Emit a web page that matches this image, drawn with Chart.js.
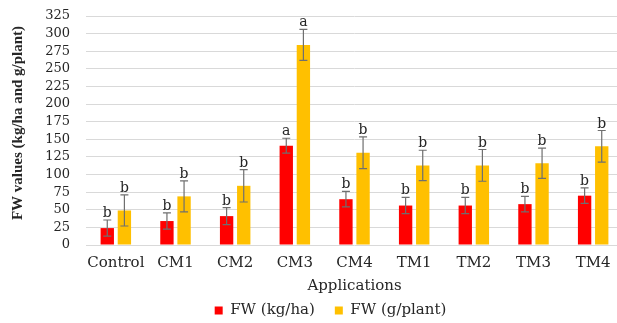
<!DOCTYPE html>
<html>
<head>
<meta charset="utf-8">
<script src="https://cdn.jsdelivr.net/npm/chart.js@4/dist/chart.umd.min.js"></script>
<style>
  html, body { margin: 0; padding: 0; background: #fff; overflow: hidden; }
  #wrap { width: 617px; height: 323px; overflow: hidden; position: relative; }
  #box { width: 660px; height: 328px; position: absolute; left: 0; top: 0; }
</style>
</head>
<body>
<div id="wrap"><div id="box"><canvas id="c"></canvas></div></div>
<script>
// Fresh weight per treatment
const categories = ['Control', 'CM1', 'CM2', 'CM3', 'CM4', 'TM1', 'TM2', 'TM3', 'TM4'];
const fwKgHa      = [24, 34, 41, 141, 65, 56, 56, 58, 70];
const fwKgHaErr   = [11.5, 11.5, 12, 10.5, 11, 11.5, 11.5, 11, 11];
const fwKgHaSig   = ['b', 'b', 'b', 'a', 'b', 'b', 'b', 'b', 'b'];
const fwGPlant    = [49, 69, 84, 284, 131, 113, 113, 116, 140];
const fwGPlantErr = [22, 22, 23, 22, 22.5, 21.5, 22.5, 21.5, 22.5];
const fwGPlantSig = ['b', 'b', 'b', 'a', 'b', 'b', 'b', 'b', 'b'];
const yTicks      = [0, 25, 50, 75, 100, 125, 150, 175, 200, 225, 250, 275, 300, 325];

const SERIF = "'DejaVu Serif', serif";
const TEXT = '#262626';

// error bars with significance letters on top
const errorBars = {
  id: 'errorBars',
  afterDatasetsDraw(chart) {
    const ctx = chart.ctx;
    const y = chart.scales.y;
    chart.data.datasets.forEach((ds, i) => {
      const meta = chart.getDatasetMeta(i);
      meta.data.forEach((bar, j) => {
        const v = ds.data[j], e = ds.errors[j];
        const yTop = y.getPixelForValue(v + e);
        const yBot = y.getPixelForValue(v - e);
        const x = bar.x;
        ctx.save();
        ctx.strokeStyle = '#6f6f6f';
        ctx.lineWidth = 1.2;
        ctx.beginPath();
        ctx.moveTo(x, yTop); ctx.lineTo(x, yBot);
        ctx.moveTo(x - 4, yTop); ctx.lineTo(x + 4, yTop);
        ctx.moveTo(x - 4, yBot); ctx.lineTo(x + 4, yBot);
        ctx.stroke();
        ctx.fillStyle = TEXT;
        ctx.font = '14px ' + SERIF;
        ctx.textAlign = 'center';
        ctx.textBaseline = 'alphabetic';
        ctx.fillText(ds.letters[j], x, yTop - 3);
        ctx.restore();
      });
    });
  }
};

// centre the legend under the whole figure rather than the padded box
const legendShift = {
  id: 'legendShift',
  afterLayout(chart) {
    const lg = chart.legend;
    if (lg) { lg.left += 19; lg.right += 19; }
  }
};

new Chart(document.getElementById('c'), {
  type: 'bar',
  data: {
    labels: categories,
    datasets: [
      { label: 'FW (kg/ha)', data: fwKgHa, errors: fwKgHaErr, letters: fwKgHaSig,
        backgroundColor: '#ff0000', borderWidth: 0 },
      { label: 'FW (g/plant)', data: fwGPlant, errors: fwGPlantErr, letters: fwGPlantSig,
        backgroundColor: '#ffc000', borderWidth: 0 }
    ]
  },
  options: {
    responsive: true,
    maintainAspectRatio: false,
    animation: false,
    layout: { autoPadding: false, padding: { top: 16, right: 37, left: 0, bottom: 0 } },
    datasets: { bar: { categoryPercentage: 0.574, barPercentage: 0.78 } },
    plugins: {
      tooltip: { enabled: false },
      legend: {
        position: 'bottom',
        labels: {
          boxWidth: 8, boxHeight: 8, padding: 20,
          color: TEXT,
          font: { family: SERIF, size: 15 }
        }
      }
    },
    scales: {
      x: {
        grid: { display: false, drawTicks: false },
        border: { display: false },
        ticks: { color: TEXT, font: { family: SERIF, size: 15 }, padding: 9,
                 maxRotation: 0, autoSkip: false },
        afterFit(scale) { scale.height = 38; },
        title: { display: true, text: 'Applications', color: TEXT,
                 font: { family: SERIF, size: 15 }, padding: { top: 0, bottom: -12 } }
      },
      y: {
        min: 0, max: 325,
        afterBuildTicks(scale) { scale.ticks = yTicks.map(v => ({ value: v })); },
        grid: { color: '#d9d9d9', lineWidth: 1, drawTicks: false },
        border: { display: false },
        ticks: { color: TEXT, font: { family: SERIF, size: 13 }, padding: 16, autoSkip: false },
        afterFit(scale) { scale.width = 86; scale.paddingTop = 0; scale.paddingBottom = 0; },
        title: { display: true, text: '    FW values (kg/ha and g/plant)', color: TEXT,
                 font: { family: "'Liberation Serif', serif", size: 15, weight: 'bold' },
                 padding: { top: 9, bottom: 0 } }
      }
    }
  },
  plugins: [errorBars, legendShift]
});
</script>
</body>
</html>
